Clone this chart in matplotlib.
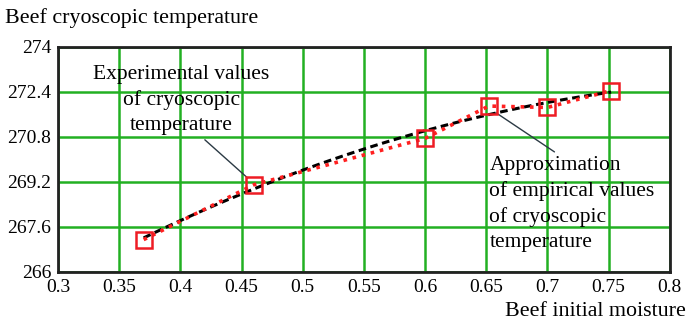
import numpy as np
import matplotlib.pyplot as plt

# Experimental cryoscopic temperature of beef vs initial moisture
moisture = [0.37, 0.46, 0.60, 0.652, 0.70, 0.752]
temperature = [267.15, 269.1, 270.75, 271.9, 271.85, 272.45]

x_ticks = [0.3, 0.35, 0.4, 0.45, 0.5, 0.55, 0.6, 0.65, 0.7, 0.75, 0.8]
x_tick_labels = ['0.3', '0.35', '0.4', '0.45', '0.5', '0.55', '0.6', '0.65', '0.7', '0.75', '0.8']
y_ticks = [266, 267.6, 269.2, 270.8, 272.4, 274]
y_tick_labels = ['266', '267.6', '269.2', '270.8', '272.4', '274']

plt.rcParams['font.family'] = 'Liberation Serif'

fig = plt.figure(figsize=(6.89, 3.23), dpi=100)
ax = fig.add_axes([0.0842, 0.158, 0.888, 0.6965])

# approximation curve (quadratic fit of the experimental points)
coef = np.polyfit(moisture, temperature, 2)
xs = np.linspace(moisture[0], moisture[-1], 60)
ax.plot(xs, np.polyval(coef, xs), color='black', linestyle=(0, (2.5, 1.5)),
        linewidth=2.2, zorder=3)

# experimental values joined by a dotted line
ax.plot(moisture, temperature, color='#ff2020', linestyle=(0, (1, 1.6)),
        linewidth=2.6, zorder=4)
ax.plot(moisture, temperature, linestyle='none', marker='s', markersize=11,
        markerfacecolor='none', markeredgecolor='#ee1c24', markeredgewidth=1.8,
        zorder=5)

ax.set_xlim(0.3, 0.8)
ax.set_ylim(266, 274)
ax.set_xticks(x_ticks)
ax.set_xticklabels(x_tick_labels)
ax.set_yticks(y_ticks)
ax.set_yticklabels(y_tick_labels)
ax.tick_params(length=0, labelsize=14, pad=5)
ax.grid(True, color='#22b022', linewidth=1.8)
ax.set_axisbelow(True)
for side in ['left', 'bottom', 'top', 'right']:
    ax.spines[side].set_color('#222222')
    ax.spines[side].set_linewidth(2)

# captions with leader lines
ax.text(0.4008, 272.12, 'Experimental values\nof cryoscopic\ntemperature',
        ha='center', va='center', fontsize=15.5, linespacing=1.42, zorder=6)
ax.annotate('', xy=(0.455, 269.34), xytext=(0.42, 270.7),
            arrowprops=dict(arrowstyle='-', color='#2b3a44', linewidth=1,
                            shrinkA=0, shrinkB=0))
ax.text(0.6525, 268.42, 'Approximation\nof empirical values\nof cryoscopic\ntemperature',
        ha='left', va='center', fontsize=15.5, linespacing=1.42, zorder=6)
ax.annotate('', xy=(0.658, 271.66), xytext=(0.7057, 270.27),
            arrowprops=dict(arrowstyle='-', color='#2b3a44', linewidth=1,
                            shrinkA=0, shrinkB=0))

fig.text(0.007, 0.945, 'Beef cryoscopic temperature', fontsize=15.8, ha='left', va='center')
fig.text(0.995, 0.035, 'Beef initial moisture', fontsize=15.8, ha='right', va='center')

fig.savefig('out.png', dpi=100)
